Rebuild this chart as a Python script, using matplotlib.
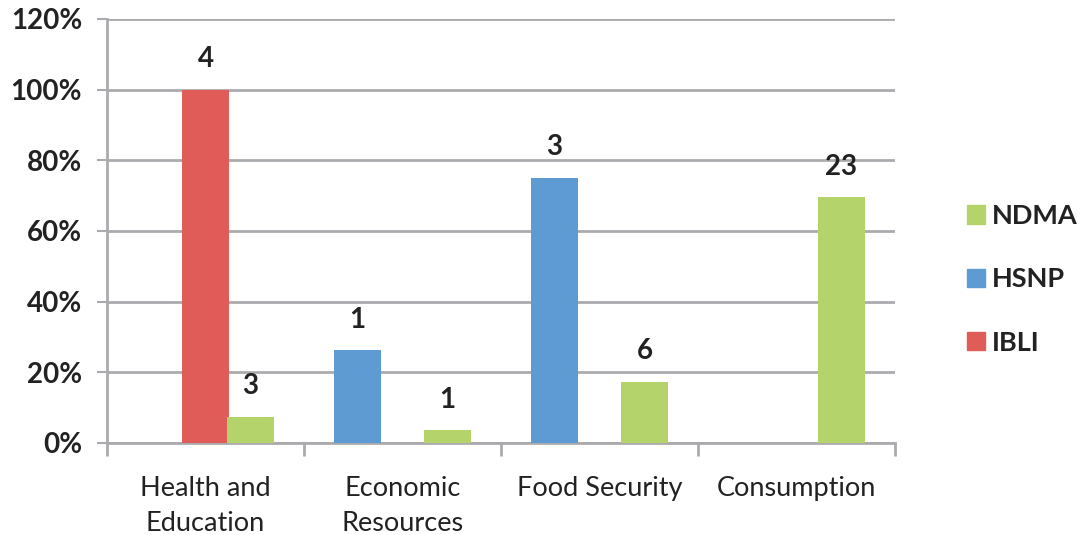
import numpy as np
import matplotlib
matplotlib.use("Agg")
import matplotlib.pyplot as plt
from matplotlib.patches import Patch

plt.rcParams['font.family'] = ['Lato', 'DejaVu Sans']

# data (percent, count label)
categories = ['Health and\nEducation', 'Economic\nResources', 'Food Security', 'Consumption']
ibli = [100, np.nan, np.nan, np.nan]
ibli_n = [4, None, None, None]
hsnp = [np.nan, 26.3, 75, np.nan]
hsnp_n = [None, 1, 3, None]
ndma = [7.4, 3.6, 17.4, 69.5]
ndma_n = [3, 1, 6, 23]

c_ibli = '#E05C59'
c_hsnp = '#5E9BD3'
c_ndma = '#B4D46B'
grid_c = '#ABABAF'
txt_c = '#222222'

fig = plt.figure(figsize=(10.81, 5.35), dpi=100)
ax = fig.add_axes([0.099, 0.172, 0.729, 0.7925])

x = np.arange(len(categories))
w = 0.24
series = [(hsnp, hsnp_n, c_hsnp, -0.228), (ibli, ibli_n, c_ibli, 0.0), (ndma, ndma_n, c_ndma, 0.228)]
for vals, counts, col, off in series:
    bars = ax.bar(x + off, vals, width=w, color=col, zorder=3)
    for b, v, n in zip(bars, vals, counts):
        if n is None:
            continue
        ax.annotate(str(n), (b.get_x() + b.get_width() / 2, v), xytext=(0, 22),
                    textcoords='offset points', ha='center', va='center',
                    fontsize=20, fontweight='bold', color=txt_c)

ax.set_xlim(-0.5, 3.5)
ax.set_ylim(0, 120)
ax.set_yticks(np.arange(0, 121, 20))
ax.set_yticklabels([f'{v}%' for v in range(0, 121, 20)], fontsize=20, fontweight='bold', color=txt_c)
ax.yaxis.grid(True, color=grid_c, linewidth=2, zorder=0)
ax.tick_params(axis='y', length=7, width=1.5, color=grid_c, pad=11)

ax.set_xticks(x)
ax.set_xticklabels(categories, fontsize=19.5, color=txt_c, linespacing=1.5)
ax.set_xticks(np.arange(-0.5, 4, 1), minor=True)
ax.tick_params(axis='x', which='major', length=0, pad=24)
ax.tick_params(axis='x', which='minor', length=9, width=2, color=grid_c)

for s in ['top', 'right']:
    ax.spines[s].set_visible(False)
ax.spines['left'].set_color(grid_c)
ax.spines['left'].set_linewidth(2)
ax.spines['bottom'].set_color(grid_c)
ax.spines['bottom'].set_linewidth(2)

handles = [Patch(color=c_ndma, label='NDMA'), Patch(color=c_hsnp, label='HSNP'), Patch(color=c_ibli, label='IBLI')]
leg = fig.legend(handles=handles, loc='center left', bbox_to_anchor=(0.872, 0.478), frameon=False,
                 prop={'size': 19.5, 'weight': 'bold'}, handlelength=0.65, handleheight=0.65,
                 handletextpad=0.25, labelspacing=1.45)
for t in leg.get_texts():
    t.set_color(txt_c)

fig.savefig('out.png', dpi=100)
